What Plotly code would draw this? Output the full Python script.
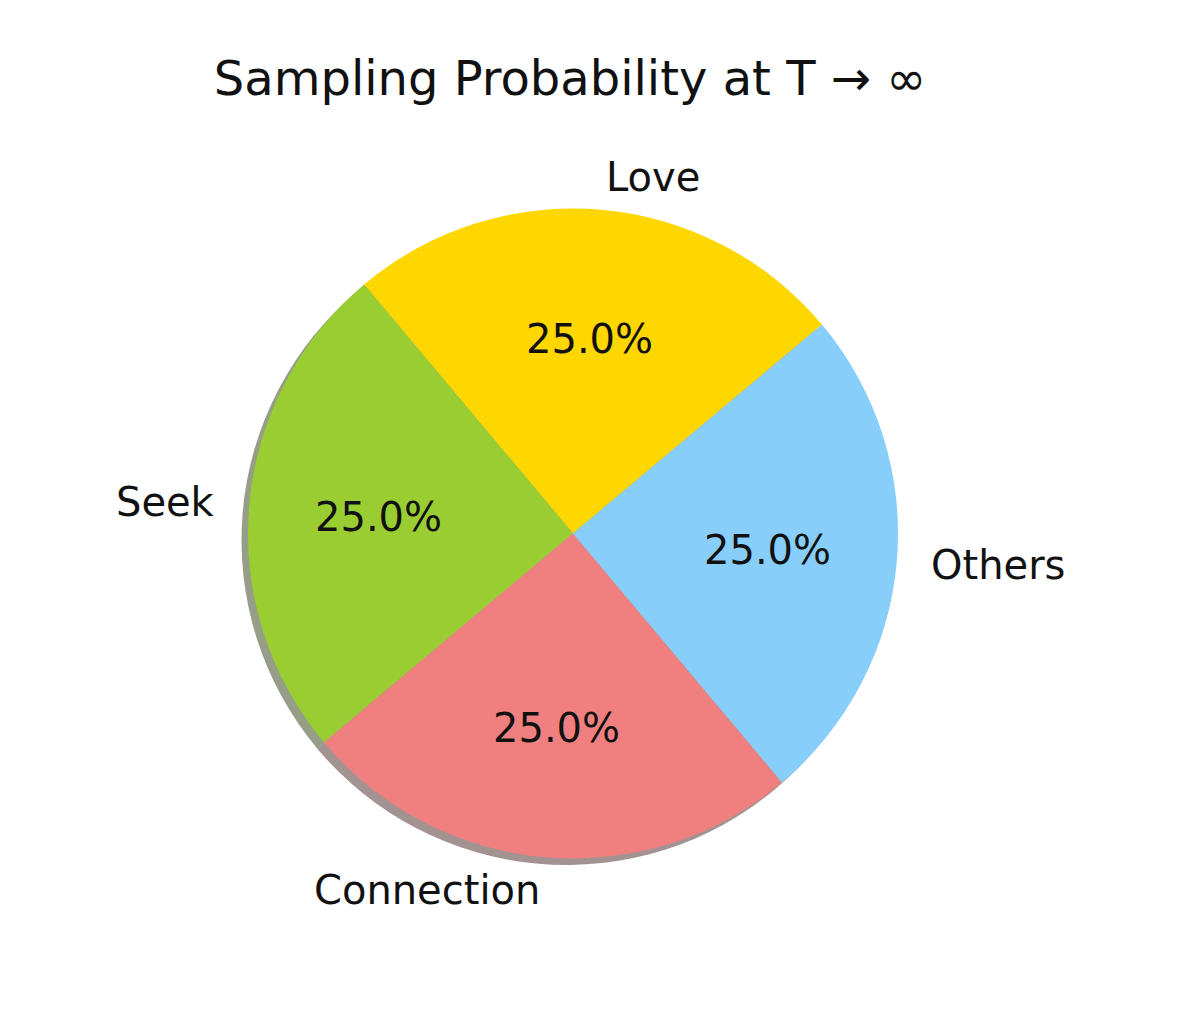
import math
import plotly.graph_objects as go

# Data
labels = ["Love", "Seek", "Connection", "Others"]
values = [25, 25, 25, 25]
colors = ["#FFD700", "#9ACD32", "#F08080", "#87CEFA"]
title_text = "Sampling Probability at T \u2192 \u221e"

PAGE_OFF = 8                         # browser body margin
W, H = 1200 - 2 * PAGE_OFF, 1036 - 2 * PAGE_OFF
cx, cy, R = 573 - PAGE_OFF, 533.5 - PAGE_OFF, 325   # pie centre / radius (px)
start_angle = 40                     # matplotlib-style start angle (deg, ccw from 3 o'clock)
shadow_off = 0.02 * R                # matplotlib shadow offset

total = sum(values)
# plotly counterclockwise: first slice ends at rotation point
rotation = 90 - start_angle - 360 * values[0] / total

def dom(cxp, cyp, r):
    return dict(x=[(cxp - r) / W, (cxp + r) / W],
                y=[1 - (cyp + r) / H, 1 - (cyp - r) / H])

def shadow_rgba(hexc):
    h = hexc.lstrip("#")
    r, g, b = (int(h[i:i + 2], 16) for i in (0, 2, 4))
    return f"rgba({int(r*0.3)},{int(g*0.3)},{int(b*0.3)},0.5)"

fig = go.Figure()

# shadow pie
fig.add_trace(go.Pie(
    labels=[l + " " for l in labels], values=values, sort=False, direction="counterclockwise",
    rotation=rotation, domain=dom(cx - shadow_off, cy + shadow_off, R),
    marker=dict(colors=[shadow_rgba(c) for c in colors], line=dict(width=0)),
    textinfo="none", hoverinfo="skip", showlegend=False,
))

# main pie
fig.add_trace(go.Pie(
    labels=labels, values=values, sort=False, direction="counterclockwise",
    rotation=rotation, domain=dom(cx, cy, R),
    marker=dict(colors=colors, line=dict(width=0)),
    textinfo="none", showlegend=False,
))

font = dict(family="DejaVu Sans", size=40, color="#111111")
cum = 0
annotations = []
for lab, v in zip(labels, values):
    mid = math.radians(start_angle + 360 * (cum + v / 2) / total)
    cum += v
    # percentage at 0.6 radius
    px = cx + 0.6 * R * math.cos(mid)
    py = cy - 0.6 * R * math.sin(mid)
    annotations.append(dict(x=px / W, y=1 - py / H, xref="paper", yref="paper",
                            text=f"{100 * v / total:.1f}%", showarrow=False,
                            xanchor="center", yanchor="middle", font=font))
    # label at 1.1 radius
    lx = cx + 1.1 * R * math.cos(mid)
    ly = cy - 1.1 * R * math.sin(mid)
    annotations.append(dict(x=lx / W, y=1 - ly / H, xref="paper", yref="paper",
                            text=lab, showarrow=False,
                            xanchor="left" if math.cos(mid) > 0 else "right",
                            yanchor="middle", font=font))

fig.update_layout(
    width=W, height=H,
    margin=dict(l=0, r=0, t=0, b=0),
    paper_bgcolor="white", plot_bgcolor="white",
    title=dict(text=title_text, x=(570 - PAGE_OFF) / W, xanchor="center",
               y=1 - (78 - PAGE_OFF) / H, yanchor="middle",
               font=dict(family="DejaVu Sans", size=48, color="#111111")),
    annotations=annotations,
)

fig.write_html("out.html")
